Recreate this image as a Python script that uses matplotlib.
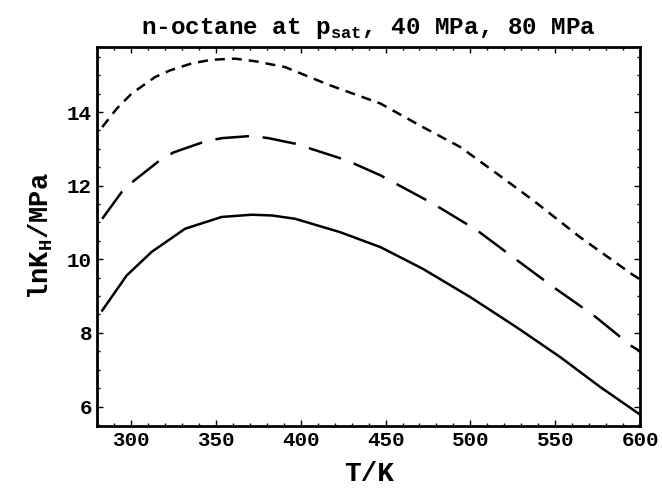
import matplotlib
matplotlib.use("Agg")
import matplotlib.pyplot as plt
from matplotlib.ticker import MultipleLocator

# lnK_H para n-octano a p_sat, 40 MPa y 80 MPa
T_psat = [283.1, 297.5, 312.2, 331.9, 353.5, 371.2, 383, 396.7, 423, 447, 472, 500, 527, 553, 576.5, 600]
lnK_psat = [8.61, 9.56, 10.2, 10.83, 11.15, 11.21, 11.19, 11.1, 10.74, 10.33, 9.74, 8.97, 8.16, 7.34, 6.53, 5.78]

T_40 = [283.1, 294.6, 301.4, 317.1, 325, 343.6, 353.5, 371.2, 381, 396.7, 427, 447, 478, 503.8,
        525, 549, 572.5, 595, 600]
lnK_40 = [11.1, 11.83, 12.12, 12.69, 12.9, 13.2, 13.29, 13.35, 13.29, 13.14, 12.69, 12.28, 11.51, 10.79,
          10.06, 9.24, 8.48, 7.64, 7.5]

T_80 = [283.1, 291.6, 300.4, 314.2, 323, 335.8, 347.6, 361.3, 373.1, 390.8, 417, 447, 472, 494,
        515.5, 537, 564.6, 595, 600]
lnK_80 = [13.59, 14.09, 14.5, 14.95, 15.13, 15.32, 15.42, 15.45, 15.38, 15.22, 14.73, 14.23, 13.59, 13.05,
          12.33, 11.6, 10.6, 9.6, 9.45]

fuente = "Liberation Mono"

fig = plt.figure(figsize=(6.62, 4.88), dpi=100)
ax = fig.add_axes([0.1465, 0.1277, 0.8205, 0.7763])

ax.plot(T_psat, lnK_psat, color="black", lw=1.8)
ax.plot(T_40, lnK_40, color="black", lw=1.8, dashes=(13.5, 5.5))
ax.plot(T_80, lnK_80, color="black", lw=1.8, dashes=(4.0, 2.8))

ax.set_xlim(280, 600)
ax.set_ylim(5.48, 15.77)
ax.xaxis.set_major_locator(MultipleLocator(50))
ax.xaxis.set_minor_locator(MultipleLocator(10))
ax.yaxis.set_major_locator(MultipleLocator(2))
ax.yaxis.set_minor_locator(MultipleLocator(0.5))
ax.tick_params(which="both", direction="in", top=True, right=True, width=1)
ax.tick_params(which="major", length=4)
ax.tick_params(which="minor", length=2)
for s in ax.spines.values():
    s.set_linewidth(2)

for lbl in ax.get_xticklabels() + ax.get_yticklabels():
    lbl.set_fontfamily(fuente)
    lbl.set_fontweight("bold")
    lbl.set_fontsize(15)

ax.set_xlabel("T/K", fontfamily=fuente, fontweight="bold", fontsize=20, labelpad=8)
ax.set_ylabel(r"lnK$_{\mathregular{H}}$/MPa", fontfamily=fuente, fontweight="bold", fontsize=19.5,
              labelpad=9)
ax.set_title(r"n-octane at p$_{\mathregular{sat}}$, 40 MPa, 80 MPa", fontfamily=fuente,
             fontweight="bold", fontsize=17.5, pad=9)

fig.savefig("out.png", dpi=100)
